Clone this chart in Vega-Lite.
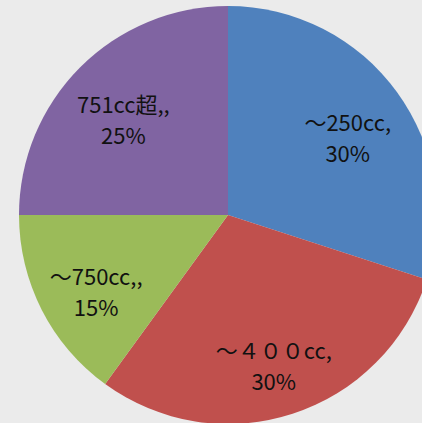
{
  "$schema": "https://vega.github.io/schema/vega-lite/v6.json",
  "width": 388,
  "height": 416,
  "autosize": {"type": "none"},
  "padding": {"left": 34, "top": 7, "right": 0, "bottom": 0},
  "background": "#ebebeb",
  "data": {
    "values": [
      {"category": "～250cc", "value": 30, "order": 1, "label": "～250cc,\n30%"},
      {"category": "～４００cc", "value": 30, "order": 2, "label": "～４００cc,\n30%"},
      {"category": "～750cc", "value": 15, "order": 3, "label": "～750cc,,\n15%"},
      {"category": "751cc超", "value": 25, "order": 4, "label": "751cc超,,\n25%"}
    ]
  },
  "encoding": {
    "theta": {"field": "value", "type": "quantitative", "stack": true},
    "order": {"field": "order", "type": "quantitative"}
  },
  "layer": [
    {
      "mark": {"type": "arc", "outerRadius": 209},
      "encoding": {
        "color": {
          "field": "category",
          "type": "nominal",
          "scale": {
            "domain": ["～250cc", "～４００cc", "～750cc", "751cc超"],
            "range": ["#4F81BD", "#C0504D", "#9BBB59", "#8064A2"]
          },
          "legend": null
        }
      }
    },
    {
      "mark": {
        "type": "text",
        "radius": 148,
        "dy": -4,
        "fontSize": 22,
        "font": "Noto Sans CJK JP",
        "lineBreak": "\n",
        "lineHeight": 31,
        "color": "#111111"
      },
      "encoding": {"text": {"field": "label", "type": "nominal"}}
    }
  ],
  "config": {"view": {"stroke": null}}
}
